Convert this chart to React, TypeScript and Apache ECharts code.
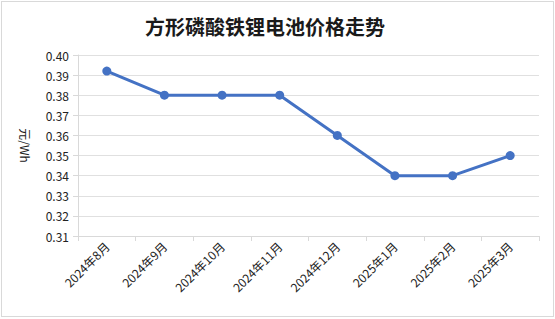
import React, { useEffect, useRef } from "react";
import * as echarts from "echarts";

const categories = ["2024年8月", "2024年9月", "2024年10月", "2024年11月", "2024年12月", "2025年1月", "2025年2月", "2025年3月"];
const prices = [0.392, 0.38, 0.38, 0.38, 0.36, 0.34, 0.34, 0.35];
const titleText = "方形磷酸铁锂电池价格走势";
const unitName = "元/Wh";

export default function App() {
  const ref = useRef<HTMLDivElement>(null);
  useEffect(() => {
    document.body.style.margin = "0";
    const chart = echarts.init(ref.current!, null, { renderer: "svg" });
    chart.setOption({
      animation: false,
      backgroundColor: "#ffffff",
      title: {
        text: titleText,
        left: 260,
        top: 11,
        textAlign: "center",
        textStyle: { fontFamily: "Noto Sans CJK SC", fontSize: 20, fontWeight: "bold", color: "#1a1a1a" },
      },
      grid: { left: 78, right: 16, top: 55, bottom: 83 },
      xAxis: {
        type: "category",
        data: categories,
        boundaryGap: true,
        axisLine: { show: true, lineStyle: { color: "#d9d9d9" } },
        axisTick: { show: true, length: 5, lineStyle: { color: "#d9d9d9" } },
        axisLabel: { rotate: 45, interval: 0, fontSize: 12, color: "#222", fontFamily: "Noto Sans CJK SC", margin: 8 },
      },
      yAxis: {
        type: "value",
        min: 0.31,
        max: 0.4,
        interval: 0.01,
        name: unitName,
        nameLocation: "middle",
        nameRotate: -90,
        nameGap: 46,
        nameTextStyle: { fontSize: 12, color: "#222", fontFamily: "Noto Sans CJK SC" },
        axisLine: { show: true, lineStyle: { color: "#d9d9d9" } },
        axisTick: { show: true, length: 5, lineStyle: { color: "#d9d9d9" } },
        splitLine: { show: true, lineStyle: { color: "#e0e0e0" } },
        axisLabel: { fontSize: 12, color: "#222", fontFamily: "Noto Sans CJK SC", margin: 9, formatter: (v: number) => v.toFixed(2) },
      },
      series: [
        {
          type: "line",
          data: prices,
          symbol: "circle",
          symbolSize: 9,
          lineStyle: { color: "#4472C4", width: 3 },
          itemStyle: { color: "#4472C4" },
        },
      ],
    });
    return () => chart.dispose();
  }, []);
  return (
    <div style={{ position: "relative", width: 555, height: 319 }}>
      <div ref={ref} style={{ width: 555, height: 319 }} />
      <div style={{ position: "absolute", left: 1, top: 1, width: 551, height: 314, border: "1px solid #d9d9d9", pointerEvents: "none" }} />
    </div>
  );
}
